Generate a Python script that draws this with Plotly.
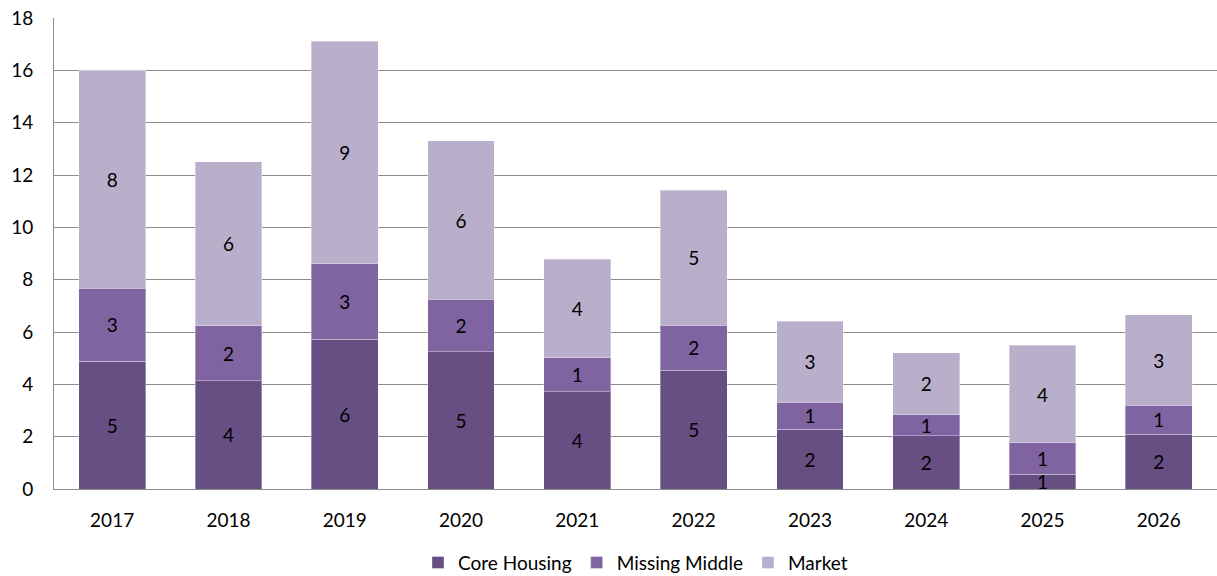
import plotly.graph_objects as go

years = ["2017", "2018", "2019", "2020", "2021", "2022", "2023", "2024", "2025", "2026"]
core_housing = [4.89, 4.13, 5.73, 5.24, 3.71, 4.53, 2.29, 2.03, 0.57, 2.10]
missing_middle = [2.79, 2.10, 2.87, 2.02, 1.30, 1.72, 1.03, 0.80, 1.19, 1.11]
market = [8.33, 6.27, 8.52, 6.04, 3.78, 5.16, 3.10, 2.37, 3.74, 3.44]

series = [
    ("Core Housing", core_housing, "#674F84"),
    ("Missing Middle", missing_middle, "#8064A2"),
    ("Market", market, "#B9AFCA"),
]

FONT = "Lato, 'Open Sans', sans-serif"

fig = go.Figure()
for name, vals, color in series:
    fig.add_trace(go.Bar(
        name=name, x=years, y=vals,
        marker=dict(color=color, line=dict(color="rgba(255,255,255,0.35)", width=1)),
        texttemplate="%{y:.0f}", textposition="inside", insidetextanchor="middle",
        constraintext="none", textangle=0,
        textfont=dict(family=FONT, size=19, color="#000000"),
        hoverinfo="skip",
    ))

fig.update_layout(
    barmode="stack", bargap=0.426,
    width=1217, height=576,
    margin=dict(l=54, r=0, t=18, b=87, autoexpand=False),
    plot_bgcolor="white", paper_bgcolor="white",
    font=dict(family=FONT, size=19, color="#000000"),
    showlegend=True,
    legend=dict(orientation="h", x=0.5, xanchor="center", y=-0.116, yanchor="top",
                font=dict(family=FONT, size=19), itemwidth=30, traceorder="normal"),
)
fig.update_yaxes(range=[0, 18], dtick=2, showgrid=True, gridcolor="#8C8C8C", gridwidth=1,
                 showline=True, linecolor="#8C8C8C", linewidth=1,
                 ticks="outside", ticklen=16, tickcolor="rgba(0,0,0,0)",
                 ticklabeloverflow="allow",
                 tickfont=dict(family=FONT, size=19), zeroline=False, automargin=False)
fig.update_xaxes(showline=True, linecolor="#8C8C8C", linewidth=1,
                 ticks="outside", ticklen=14, tickcolor="rgba(0,0,0,0)",
                 ticklabeloverflow="allow",
                 tickfont=dict(family=FONT, size=19), automargin=False)

fig.write_html("out.html", config={"displayModeBar": False},
               post_script="document.body.style.margin='0';")
